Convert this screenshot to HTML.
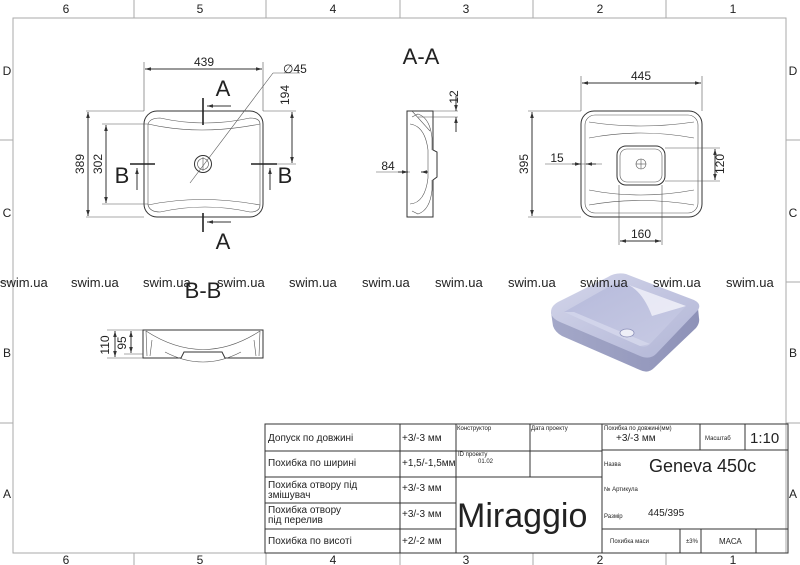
<!DOCTYPE html>
<html><head><meta charset="utf-8"><style>
html,body{margin:0;padding:0;background:#fff}
svg{display:block}
text{font-family:"Liberation Sans",sans-serif;fill:#222}
.ln{stroke:#333;fill:none;stroke-width:1}
.th{stroke:#555;fill:none;stroke-width:0.6}
.g{stroke:#aaa;fill:none;stroke-width:1}
.wm{font-size:13px;fill:#555}
.tb{font-size:10px}
.sm{font-size:6px}
</style></head><body>
<svg width="800" height="565" viewBox="0 0 800 565" xmlns="http://www.w3.org/2000/svg">
<defs>
<marker id="ar" viewBox="0 0 10 10" refX="10" refY="5" markerWidth="6" markerHeight="6" orient="auto-start-reverse"><path d="M0,2 L10,5 L0,8 z" fill="#333"/></marker>
<linearGradient id="gt" x1="0" y1="0" x2="1" y2="1"><stop offset="0" stop-color="#d4d6ea"/><stop offset="0.5" stop-color="#c2c5e0"/><stop offset="1" stop-color="#b2b6d6"/></linearGradient>
<linearGradient id="gs" x1="0" y1="0" x2="1" y2="0"><stop offset="0" stop-color="#a4a8c8"/><stop offset="1" stop-color="#8e92b8"/></linearGradient>
<linearGradient id="gb" x1="0" y1="0" x2="1" y2="1"><stop offset="0" stop-color="#b6badb"/><stop offset="1" stop-color="#c8cbe4"/></linearGradient>
</defs>
<!-- frame -->
<rect x="13" y="18" width="773" height="535" class="g"/>
<g class="g">
<line x1="134" y1="0" x2="134" y2="18"/><line x1="266" y1="0" x2="266" y2="18"/><line x1="400" y1="0" x2="400" y2="18"/><line x1="533" y1="0" x2="533" y2="18"/><line x1="666" y1="0" x2="666" y2="18"/>
<line x1="134" y1="553" x2="134" y2="565"/><line x1="266" y1="553" x2="266" y2="565"/><line x1="400" y1="553" x2="400" y2="565"/><line x1="533" y1="553" x2="533" y2="565"/><line x1="666" y1="553" x2="666" y2="565"/>
<line x1="0" y1="140" x2="13" y2="140"/><line x1="0" y1="282" x2="13" y2="282"/><line x1="0" y1="423" x2="13" y2="423"/>
<line x1="786" y1="140" x2="800" y2="140"/><line x1="786" y1="282" x2="800" y2="282"/><line x1="786" y1="423" x2="800" y2="423"/>
</g>
<g font-size="12" text-anchor="middle">
<text x="66" y="13">6</text><text x="200" y="13">5</text><text x="333" y="13">4</text><text x="466" y="13">3</text><text x="600" y="13">2</text><text x="733" y="13">1</text>
<text x="66" y="564">6</text><text x="200" y="564">5</text><text x="333" y="564">4</text><text x="466" y="564">3</text><text x="600" y="564">2</text><text x="733" y="564">1</text>
<text x="7" y="75">D</text><text x="7" y="217">C</text><text x="7" y="357">B</text><text x="7" y="498">A</text>
<text x="793" y="75">D</text><text x="793" y="217">C</text><text x="793" y="357">B</text><text x="793" y="498">A</text>
</g>

<!-- top view left -->
<rect x="144" y="111" width="119" height="106" rx="13" class="ln" stroke-width="1.6"/>
<path class="th" d="M148,124 Q150,118 160,118 Q205,128 250,118 Q260,118 260,124"/>
<path class="th" d="M148,124 Q200,136 260,124"/>
<path class="th" d="M148,205 Q150,212 160,212 Q205,202 250,212 Q260,212 260,205"/>
<path class="th" d="M148,205 Q200,194 260,205"/>
<path class="th" d="M148,124 L148,205 M260,124 L260,205"/>
<circle cx="203" cy="164" r="8.5" class="ln"/><circle cx="203" cy="164" r="5.5" class="th"/>
<line x1="203" y1="157" x2="203" y2="171" class="th"/>
<g class="th">
<line x1="144" y1="111" x2="144" y2="62"/><line x1="263" y1="111" x2="263" y2="62"/>
<line x1="86" y1="111" x2="144" y2="111"/><line x1="86" y1="217" x2="144" y2="217"/>
<line x1="102" y1="124" x2="148" y2="124"/><line x1="102" y1="204" x2="148" y2="204"/>
<line x1="263" y1="111" x2="296" y2="111"/><line x1="263" y1="164" x2="296" y2="164"/>
<line x1="190" y1="183" x2="273" y2="73"/><line x1="273" y1="73" x2="300" y2="73"/>
</g>
<g class="ln" stroke-width="0.8">
<line x1="145" y1="69" x2="262" y2="69" marker-start="url(#ar)" marker-end="url(#ar)"/>
<line x1="88" y1="112" x2="88" y2="216" marker-start="url(#ar)" marker-end="url(#ar)"/>
<line x1="106" y1="125" x2="106" y2="203" marker-start="url(#ar)" marker-end="url(#ar)"/>
<line x1="292" y1="112" x2="292" y2="163" marker-start="url(#ar)" marker-end="url(#ar)"/>
<line x1="231" y1="106" x2="207" y2="106" marker-end="url(#ar)"/>
<line x1="231" y1="222" x2="207" y2="222" marker-end="url(#ar)"/>
<line x1="137" y1="190" x2="137" y2="168" marker-end="url(#ar)"/>
<line x1="270" y1="190" x2="270" y2="168" marker-end="url(#ar)"/>
</g>
<g stroke="#222" stroke-width="1.6">
<line x1="203" y1="98" x2="203" y2="125"/><line x1="203" y1="213" x2="203" y2="232"/>
<line x1="130" y1="164" x2="155" y2="164"/><line x1="251" y1="164" x2="277" y2="164"/>
</g>
<text x="204" y="66" font-size="12" text-anchor="middle">439</text>
<text x="283" y="73" font-size="12">∅45</text>
<text transform="translate(289,95) rotate(-90)" font-size="12" text-anchor="middle">194</text>
<text transform="translate(84,164) rotate(-90)" font-size="12" text-anchor="middle">389</text>
<text transform="translate(102,164) rotate(-90)" font-size="12" text-anchor="middle">302</text>
<text x="223" y="96" font-size="22" text-anchor="middle">A</text>
<text x="223" y="249" font-size="22" text-anchor="middle">A</text>
<text x="122" y="183" font-size="22" text-anchor="middle">B</text>
<text x="285" y="183" font-size="22" text-anchor="middle">B</text>

<!-- A-A -->
<text x="421" y="64" font-size="22" text-anchor="middle">A-A</text>
<path class="ln" d="M407,111 L433,111 L433,150 L437,152 L437,177 L433,180 L433,217 L407,217 Z"/>
<path class="th" d="M412,117 L418,114 Q430,118 432,138 L432,150 M432,180 L432,190 Q430,210 418,214 L412,211"/>
<path class="th" d="M410,124 Q425,126 428,150 L428,178 Q425,203 410,204"/>
<line x1="412" y1="111" x2="430" y2="131" class="th"/>
<g class="th"><line x1="433" y1="111" x2="458" y2="111"/><line x1="418" y1="117" x2="458" y2="117"/><line x1="376" y1="172" x2="410" y2="172"/></g>
<g class="ln" stroke-width="0.8">
<line x1="456" y1="96" x2="456" y2="111" marker-end="url(#ar)"/><line x1="456" y1="132" x2="456" y2="117" marker-end="url(#ar)"/>
<line x1="398" y1="172" x2="408" y2="172" marker-end="url(#ar)"/><line x1="428" y1="172" x2="421" y2="172" marker-end="url(#ar)"/>
</g>
<text transform="translate(458,97) rotate(-90)" font-size="12" text-anchor="middle">12</text>
<text x="388" y="170" font-size="12" text-anchor="middle">84</text>

<!-- right view -->
<rect x="581" y="111" width="121" height="106" rx="13" class="ln" stroke-width="1.4"/>
<rect x="585" y="115" width="113" height="98" rx="10" class="th"/>
<path class="th" d="M589,122 Q640,130 694,122 M589,205 Q640,196 694,205 M589,138 Q640,128 694,138 M589,190 Q640,200 694,190"/>
<rect x="617" y="146" width="48" height="39" rx="9" class="ln"/>
<rect x="620" y="149" width="42" height="33" rx="7" class="th"/>
<circle cx="641" cy="164" r="5" class="th"/><line x1="636" y1="164" x2="646" y2="164" class="th"/><line x1="641" y1="159" x2="641" y2="169" class="th"/>
<g class="th">
<line x1="581" y1="111" x2="581" y2="76"/><line x1="702" y1="111" x2="702" y2="76"/>
<line x1="528" y1="111" x2="581" y2="111"/><line x1="528" y1="217" x2="581" y2="217"/>
<line x1="665" y1="148" x2="720" y2="148"/><line x1="665" y1="181" x2="720" y2="181"/>
<line x1="619" y1="185" x2="619" y2="245"/><line x1="662" y1="185" x2="662" y2="245"/>
<line x1="545" y1="164" x2="602" y2="164"/>
</g>
<g class="ln" stroke-width="0.8">
<line x1="582" y1="83" x2="701" y2="83" marker-start="url(#ar)" marker-end="url(#ar)"/>
<line x1="532" y1="112" x2="532" y2="216" marker-start="url(#ar)" marker-end="url(#ar)"/>
<line x1="620" y1="241" x2="661" y2="241" marker-start="url(#ar)" marker-end="url(#ar)"/>
<line x1="715" y1="149" x2="715" y2="180" marker-start="url(#ar)" marker-end="url(#ar)"/>
<line x1="572" y1="164" x2="581" y2="164" marker-end="url(#ar)"/><line x1="596" y1="164" x2="586" y2="164" marker-end="url(#ar)"/>
</g>
<text x="641" y="80" font-size="12" text-anchor="middle">445</text>
<text transform="translate(528,164) rotate(-90)" font-size="12" text-anchor="middle">395</text>
<text x="557" y="162" font-size="12" text-anchor="middle">15</text>
<text x="641" y="238" font-size="12" text-anchor="middle">160</text>
<text transform="translate(724,164) rotate(-90)" font-size="12" text-anchor="middle">120</text>

<!-- 3D render -->
<path d="M551,312 L553,326 Q555,332 562,336 L640,370 Q648,374 654,368 L696,328 Q700,323 699,318 L698,308 Z" fill="url(#gs)"/>
<path d="M551,312 Q551,306 558,302 L608,277 Q616,272 626,274 L694,300 Q702,304 698,310 L656,354 Q650,360 640,356 L560,322 Q551,318 551,312 Z" fill="url(#gt)"/>
<path d="M564,312 L610,286 Q618,282 626,284 L686,306 L650,344 Q646,348 640,346 Z" fill="url(#gb)"/>
<path d="M618,282 Q640,284 652,316 L686,306 L626,284 Z" fill="#f2f3fa" opacity="0.8"/>
<path d="M564,312 L640,346 L650,344 L574,312 Z" fill="#d6d8ec" opacity="0.8"/>
<ellipse cx="627" cy="333" rx="7" ry="4" fill="#eeeff7" stroke="#8a8eb8" stroke-width="0.8"/>

<!-- watermarks -->
<g class="wm">
<text x="0" y="287">swim.ua</text><text x="71" y="287">swim.ua</text><text x="143" y="287">swim.ua</text><text x="217" y="287">swim.ua</text><text x="289" y="287">swim.ua</text><text x="362" y="287">swim.ua</text><text x="435" y="287">swim.ua</text><text x="508" y="287">swim.ua</text><text x="580" y="287">swim.ua</text><text x="653" y="287">swim.ua</text><text x="726" y="287">swim.ua</text>
</g>
<text x="203" y="298" font-size="22" text-anchor="middle">B-B</text>

<!-- B-B section -->
<path class="ln" d="M143,330 L263,330 L263,358 L225,358 L222,352 L184,352 L181,358 L143,358 Z"/>
<path class="th" d="M146,331 Q203,368 260,331"/>
<path class="th" d="M146,331 L147,356 M260,331 L259,356 M152,340 L150,356 M254,340 L256,356 M165,352 Q203,372 241,352"/>
<g class="th"><line x1="107" y1="330" x2="143" y2="330"/><line x1="107" y1="358" x2="143" y2="358"/><line x1="124" y1="354" x2="143" y2="354"/></g>
<g class="ln" stroke-width="0.8">
<line x1="115" y1="331" x2="115" y2="357" marker-start="url(#ar)" marker-end="url(#ar)"/>
<line x1="131" y1="331" x2="131" y2="353" marker-start="url(#ar)" marker-end="url(#ar)"/>
</g>
<text transform="translate(109,345) rotate(-90)" font-size="12" text-anchor="middle">110</text>
<text transform="translate(126,343) rotate(-90)" font-size="12" text-anchor="middle">95</text>

<!-- title block -->
<g class="ln" stroke-width="0.6" stroke="#666">
<rect x="265" y="424" width="523" height="129"/>
<line x1="265" y1="451" x2="602" y2="451"/><line x1="265" y1="477" x2="456" y2="477"/><line x1="265" y1="503" x2="456" y2="503"/><line x1="265" y1="529" x2="456" y2="529"/>
<line x1="456" y1="477" x2="602" y2="477"/>
<line x1="400" y1="424" x2="400" y2="553"/><line x1="456" y1="424" x2="456" y2="553"/><line x1="530" y1="424" x2="530" y2="477"/><line x1="602" y1="424" x2="602" y2="553"/>
<line x1="602" y1="450" x2="788" y2="450"/><line x1="602" y1="529" x2="788" y2="529"/>
<line x1="700" y1="424" x2="700" y2="450"/><line x1="745" y1="424" x2="745" y2="450"/>
<line x1="680" y1="529" x2="680" y2="553"/><line x1="701" y1="529" x2="701" y2="553"/><line x1="756" y1="529" x2="756" y2="553"/>
</g>
<g class="tb">
<text x="268" y="441">Допуск по довжині</text>
<text x="268" y="466">Похибка по ширині</text>
<text x="268" y="488">Похибка отвору під</text><text x="268" y="498">змішувач</text>
<text x="268" y="513">Похибка отвору</text><text x="268" y="523">під перелив</text>
<text x="268" y="544">Похибка по висоті</text>
<text x="402" y="441">+3/-3 мм</text><text x="402" y="466">+1,5/-1,5мм</text><text x="402" y="491">+3/-3 мм</text><text x="402" y="517">+3/-3 мм</text><text x="402" y="544">+2/-2 мм</text>
<text x="616" y="441">+3/-3 мм</text>
<text x="648" y="516">445/395</text>
</g>
<g class="sm">
<text x="457" y="430">Конструктор</text><text x="531" y="430">Дата проекту</text>
<text x="458" y="456">ID проекту</text><text x="478" y="463">01.02</text>
<text x="604" y="430">Похибка по довжині(мм)</text>
<text x="705" y="440">Масштаб</text>
<text x="604" y="466">Назва</text><text x="604" y="491">№ Артикула</text><text x="604" y="518">Размір</text>
<text x="610" y="543">Похибка маси</text><text x="686" y="543">±3%</text>
</g>
<text x="719" y="544" font-size="8">МАСА</text>
<text x="750" y="443" font-size="15">1:10</text>
<text x="649" y="472" font-size="18">Geneva 450c</text>
<text x="457" y="527" font-size="34">Miraggio</text>
</svg>
</body></html>
